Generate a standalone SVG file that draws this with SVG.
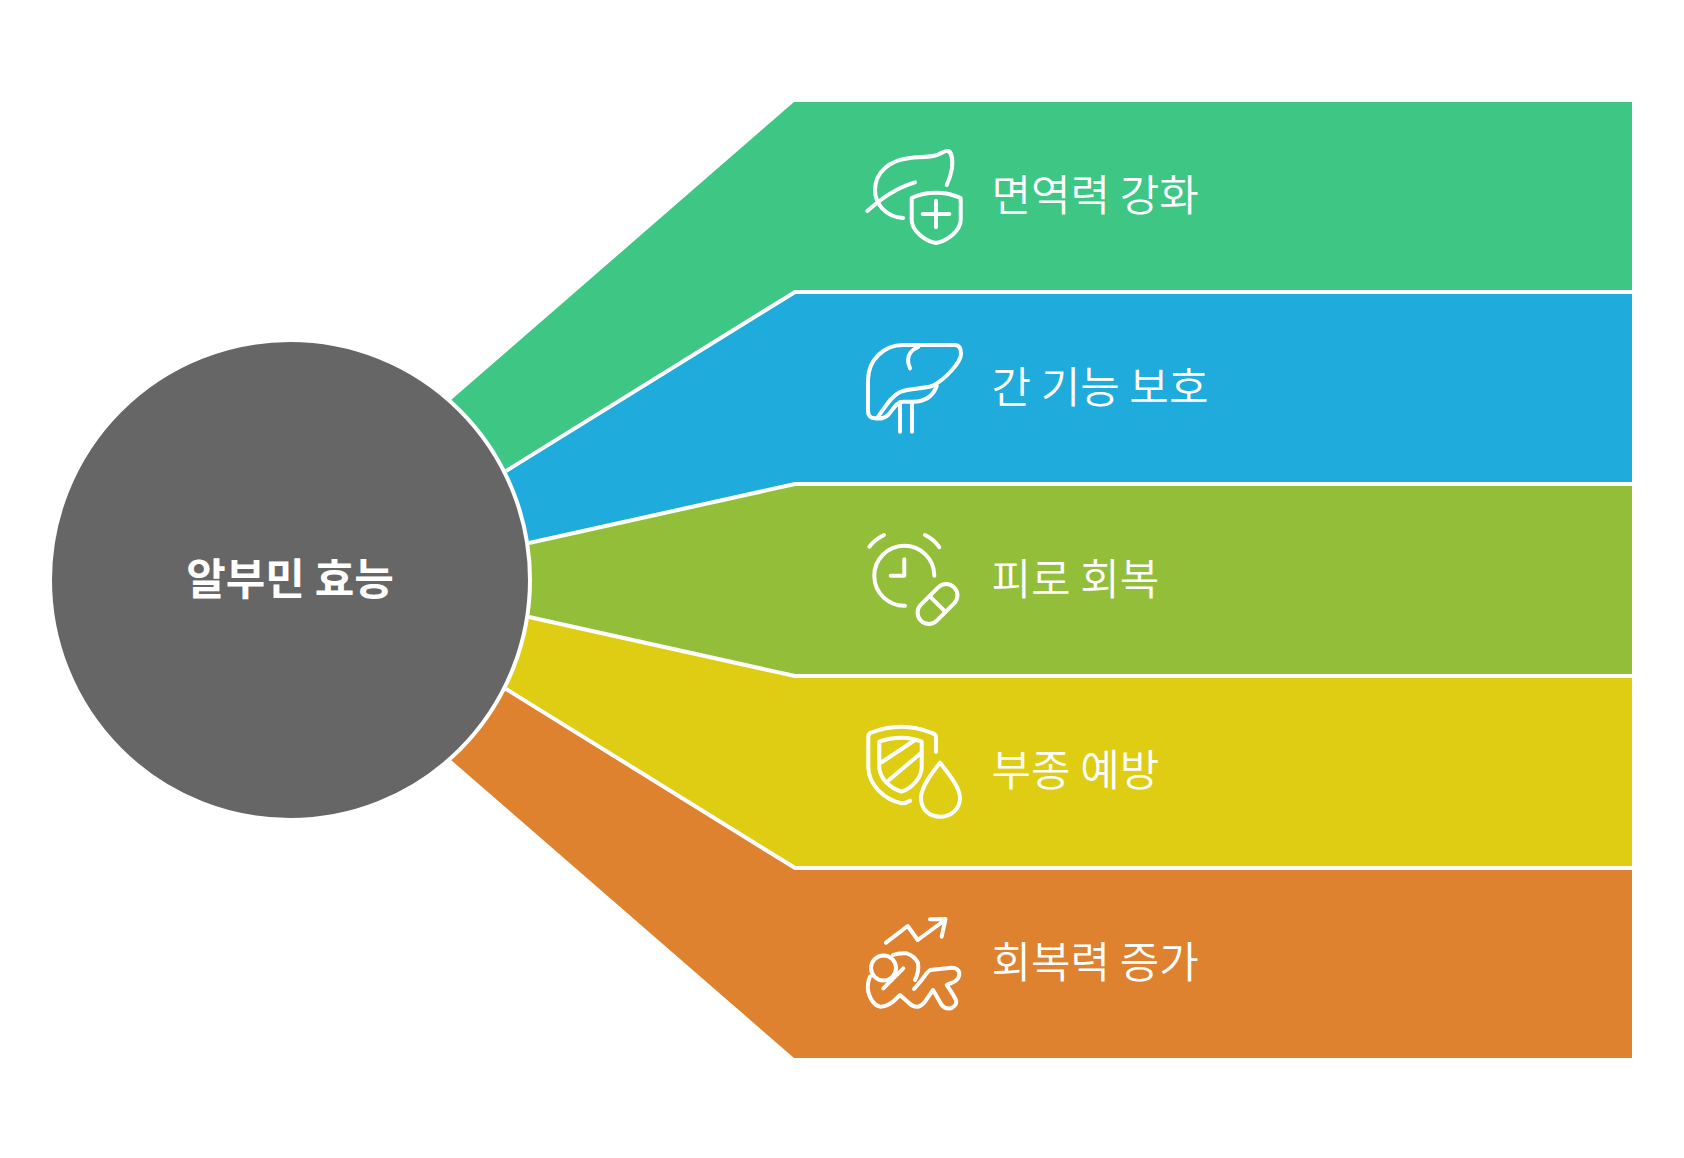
<svg xmlns="http://www.w3.org/2000/svg" width="1684" height="1158" viewBox="0 0 1684 1158">
<style>
.band{stroke:none}
.sep{fill:none;stroke:#fff;stroke-width:4}
.ico{fill:none;stroke:#fff;stroke-width:4;stroke-linecap:round;stroke-linejoin:round}
.lbl{font-family:"Noto Sans CJK KR","Noto Sans",sans-serif;font-size:43px;font-weight:350;fill:#fff}
.hub{font-family:"Noto Sans CJK KR","Noto Sans",sans-serif;font-size:43px;font-weight:700;fill:#fff;text-anchor:middle}
</style>
<rect width="1684" height="1158" fill="#fff"/>
<g id="n1"><path class="band" fill="#3EC684" d="M290 580L451 400L794 102H1632V292H795L506 471Z"/>
<path class="ico" d="M903 218C886 217 875 204 875 190C875 172 890 160 910 158C922 157 931 157 937 155C942 153 946 150 948 151C951 152 953 158 952 168C951 175 949 180 946.700 185M867.300 211C880 200 895 188 915 182.300M911.700 198C920 194 928 192.700 936 192.700C944 192.700 952 194 960.700 198V220C960.700 230 948 241 936 243C924 241 911.700 230 911.700 220ZM936 200.700V227.300M922.700 214H949.300"/>
<text class="lbl" x="991.500" y="211">면역력 강화</text></g>
<g id="n2"><path class="band" fill="#1FABDB" d="M290 580L506 471L795 292H1632V484H795L529 543Z"/>
<path class="ico" d="M955 345H903C884 345 868 360 868 380V411C868 416 871 418.300 875 418.300C880 419 885 418 888 415C893 410 896 402 903 401.700H913C925 401.700 933 396 936.700 386M878 416.700C885 408 890 397 900 392C910 388 922 389 932 386C945 380 961 362 961 354C961 348 959 345 955 345M900 402V431.700M912 402V431.700M918.300 347C911 350 908 355 908 360C908 363 909 366 910 368.300"/>
<text class="lbl" x="991.500" y="403">간 기능 보호</text></g>
<g id="n3"><path class="band" fill="#93BE39" d="M290 580L529 543L795 484H1632V676H795L529 617Z"/>
<path class="ico" d="M905 605.700A30 30 0 1 1 934.300 575.700M904.300 559.300V575.700H890.700M869.300 546.700C873 542 878 538 884 535M925 535C931 538 936 542 939.300 547.300"/>
<g transform="rotate(-45 937.500 604)"><rect class="ico" x="914" y="592.750" width="47" height="22.500" rx="11.250"/><path class="ico" d="M937.500 592.750V615.250"/></g>
<text class="lbl" x="991.500" y="595">피로 회복</text></g>
<g id="n4"><path class="band" fill="#DFCD14" d="M290 580L529 617L795 676H1632V868H795L506 689Z"/>
<path class="ico" d="M936 751.700V738C936 735 935 734 932 733C922 729 912 726.700 901.700 726.700C890 726.700 880 729 870 733C868.500 734 868.300 735 868.300 737V766.700C868.300 785 885 800 901.700 803.300C905 803.300 908 802 910 800.700M901.700 737.700C894 737.700 886 739 879.300 741.700V766.700C879.300 778 890 788 901.700 791.700C912 788 921.700 778 921.700 766.700V741.700C915 739 908 737.700 901.700 737.700ZM882 762L915 740M889 780L921 753M940 762.700C932 773 921 787 921 798C921 809 929 816.700 940 816.700C951 816.700 960 809 960 798C960 787 948 773 940 762.700Z"/>
<text class="lbl" x="991.500" y="786">부종 예방</text></g>
<g id="n5"><path class="band" fill="#DE822F" d="M290 580L506 689L795 868H1632V1058H794L451 760Z"/>
<path class="ico" d="M886 942.700L907.700 926L917.700 940L945 920M930 919.300L945.500 919L941.700 936.700M893 955C898 953 902 953 906.700 953.300C912 955 916 959 918 963C919 969 918 974 915 980M903.300 968.300L883.300 988.300M870 976.700C867.500 982 867.500 987 868.300 991.700C870 999 874 1005 880 1006.700C886 1007 890 1004 893 1001.700L900 995L909 1003C912 1006 915 1007 918 1006.700C921 1006 923 1004 925 1001.700L933 990L941.700 1005C944 1008 948 1009 951.700 1008C955 1006 957 1003 956 1000C953 994 950 990 946.700 985C950 983 954 983 956.700 980C959 977 960 974 959 971.700C957 968 955 967.700 951.700 967.700L930 970C926 973 924 977 921.700 980L914 989"/>
<circle class="ico" cx="883.500" cy="968" r="12.500"/>
<text class="lbl" x="991.500" y="978">회복력 증가</text></g>
<g id="connectors"><path class="sep" d="M506 471L795 292H1632M529 543L795 484H1632M529 617L795 676H1632M506 689L795 868H1632"/></g>
<g id="hub"><circle cx="290" cy="580" r="240" fill="#666" stroke="#fff" stroke-width="4"/>
<text class="hub" x="290" y="594.500">알부민 효능</text></g>
</svg>
